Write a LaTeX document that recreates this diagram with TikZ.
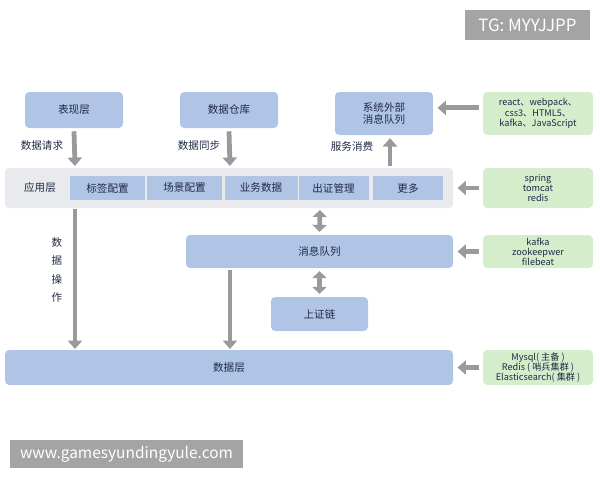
\documentclass[tikz,border=0pt]{standalone}
\usepackage{fontspec}
\setmainfont{Noto Sans CJK SC}
\usetikzlibrary{arrows.meta}
\definecolor{boxblue}{HTML}{B0C4E6}
\definecolor{boxgreen}{HTML}{D6EDCC}
\definecolor{appgray}{HTML}{E8EAED}
\definecolor{arrgray}{HTML}{9A9A9A}
\definecolor{txt}{HTML}{1F2A45}
\tikzset{
  blk/.style={fill=boxblue, rounded corners=3pt, text=txt, inner sep=0pt, align=center, font=\fontsize{7.5}{9}\selectfont},
  grn/.style={fill=boxgreen, rounded corners=3pt, text=txt, inner sep=0pt, align=center, font=\fontsize{6.5}{7.2}\selectfont},
  arr/.style={draw=arrgray, line width=3.4pt, -{Triangle[length=6pt,width=10pt]}},
  darr/.style={draw=arrgray, line width=3.4pt, {Triangle[length=5pt,width=10pt]}-{Triangle[length=5pt,width=10pt]}},
  lbl/.style={text=txt, font=\fontsize{7.5}{9}\selectfont, inner sep=0pt},
  wmark/.style={fill=arrgray!90, text=white, inner sep=0pt}
}
\begin{document}
\begin{tikzpicture}[x=0.025cm,y=-0.025cm]
\useasboundingbox (0,0) rectangle (600,480);
% watermarks
\node [wmark, font=\fontsize{12}{13}\selectfont, minimum width=125*0.025cm, minimum height=30*0.025cm] (tg) at (527.5,25) {TG: MYYJJPP};
\node [wmark, font=\fontsize{11}{12}\selectfont, minimum width=233*0.025cm, minimum height=28*0.025cm] (www) at (126.5,454) {www.gamesyundingyule.com};
% top row
\node [blk, minimum width=98*0.025cm, minimum height=36*0.025cm] (view) at (74,110) {表现层};
\node [blk, minimum width=98*0.025cm, minimum height=36*0.025cm] (dw) at (229,110) {数据仓库};
\node [blk, minimum width=98*0.025cm, minimum height=43*0.025cm] (extmq) at (384,113.5) {系统外部\\消息队列};
\node [grn, minimum width=110*0.025cm, minimum height=43*0.025cm] (g1) at (538,113.5) {react、webpack、\\css3、HTML5、\\kafka、JavaScript};
% application layer
\node [fill=appgray, rounded corners=3pt, minimum width=448*0.025cm, minimum height=40*0.025cm, inner sep=0pt] (app) at (229,188) {};
\node [lbl] (applbl) at (40,187) {应用层};
\node [blk, rounded corners=0pt, minimum width=75*0.025cm, minimum height=24*0.025cm] (a1) at (107.5,188) {标签配置};
\node [blk, rounded corners=0pt, minimum width=75*0.025cm, minimum height=24*0.025cm] (a2) at (184.5,188) {场景配置};
\node [blk, rounded corners=0pt, minimum width=73*0.025cm, minimum height=24*0.025cm] (a3) at (261,188) {业务数据};
\node [blk, rounded corners=0pt, minimum width=70*0.025cm, minimum height=24*0.025cm] (a4) at (333.5,188) {出证管理};
\node [blk, rounded corners=0pt, minimum width=70*0.025cm, minimum height=24*0.025cm] (a5) at (408,188) {更多};
\node [grn, minimum width=110*0.025cm, minimum height=40*0.025cm] (g2) at (538,188) {spring\\tomcat\\redis};
% message queue
\node [blk, minimum width=267*0.025cm, minimum height=33*0.025cm] (mq) at (319.5,251.5) {消息队列};
\node [grn, minimum width=110*0.025cm, minimum height=33*0.025cm] (g3) at (538,251.5) {kafka\\zookeepwer\\filebeat};
\node [blk, minimum width=97*0.025cm, minimum height=34*0.025cm] (chain) at (319.5,314) {上证链};
% data layer
\node [blk, minimum width=448*0.025cm, minimum height=35*0.025cm] (data) at (229,367.5) {数据层};
\node [grn, minimum width=110*0.025cm, minimum height=35*0.025cm] (g4) at (538,367.5) {Mysql( 主备 )\\Redis ( 哨兵集群 )\\Elasticsearch( 集群 )};
% arrows
\coordinate (v1) at (75,166);
\coordinate (v2) at (230,166);
\coordinate (v3) at (390,166);
\coordinate (v4) at (75,209);
\coordinate (v5) at (75,349);
\coordinate (v6) at (230,270);
\coordinate (v7) at (230,349);
\coordinate (v8) at (320,210);
\draw [arr] (view.south) ++(0,3) -- (v1);
\node [lbl] (l1) at (42,146) {数据请求};
\draw [arr] (dw.south) ++(0,3) -- (v2);
\node [lbl] (l2) at (199,146) {数据同步};
\draw [arr] (v3) -- ([yshift=-2pt]extmq.south -| v3);
\node [lbl] (l3) at (352,146) {服务消费};
\draw [arr] ([xshift=-3pt,yshift=4pt]g1.west) -- ([xshift=3pt,yshift=4pt]extmq.east);
\draw [arr] ([xshift=-3pt]g2.west) -- ([xshift=3pt]app.east);
\draw [arr] ([xshift=-3pt]g3.west) -- ([xshift=3pt]mq.east);
\draw [arr] ([xshift=-3pt]g4.west) -- ([xshift=3pt]data.east);
\draw [darr] (v8) -- ([yshift=2pt]mq.north);
\draw [darr] ([yshift=-2pt]mq.south) -- ([yshift=2pt]chain.north);
\draw [arr] (v4) -- (v5);
\node [lbl, align=center, font=\fontsize{7.5}{13}\selectfont] (l4) at (57,270) {数\\据\\操\\作};
\draw [arr] (v6) -- (v7);
\end{tikzpicture}
\end{document}
